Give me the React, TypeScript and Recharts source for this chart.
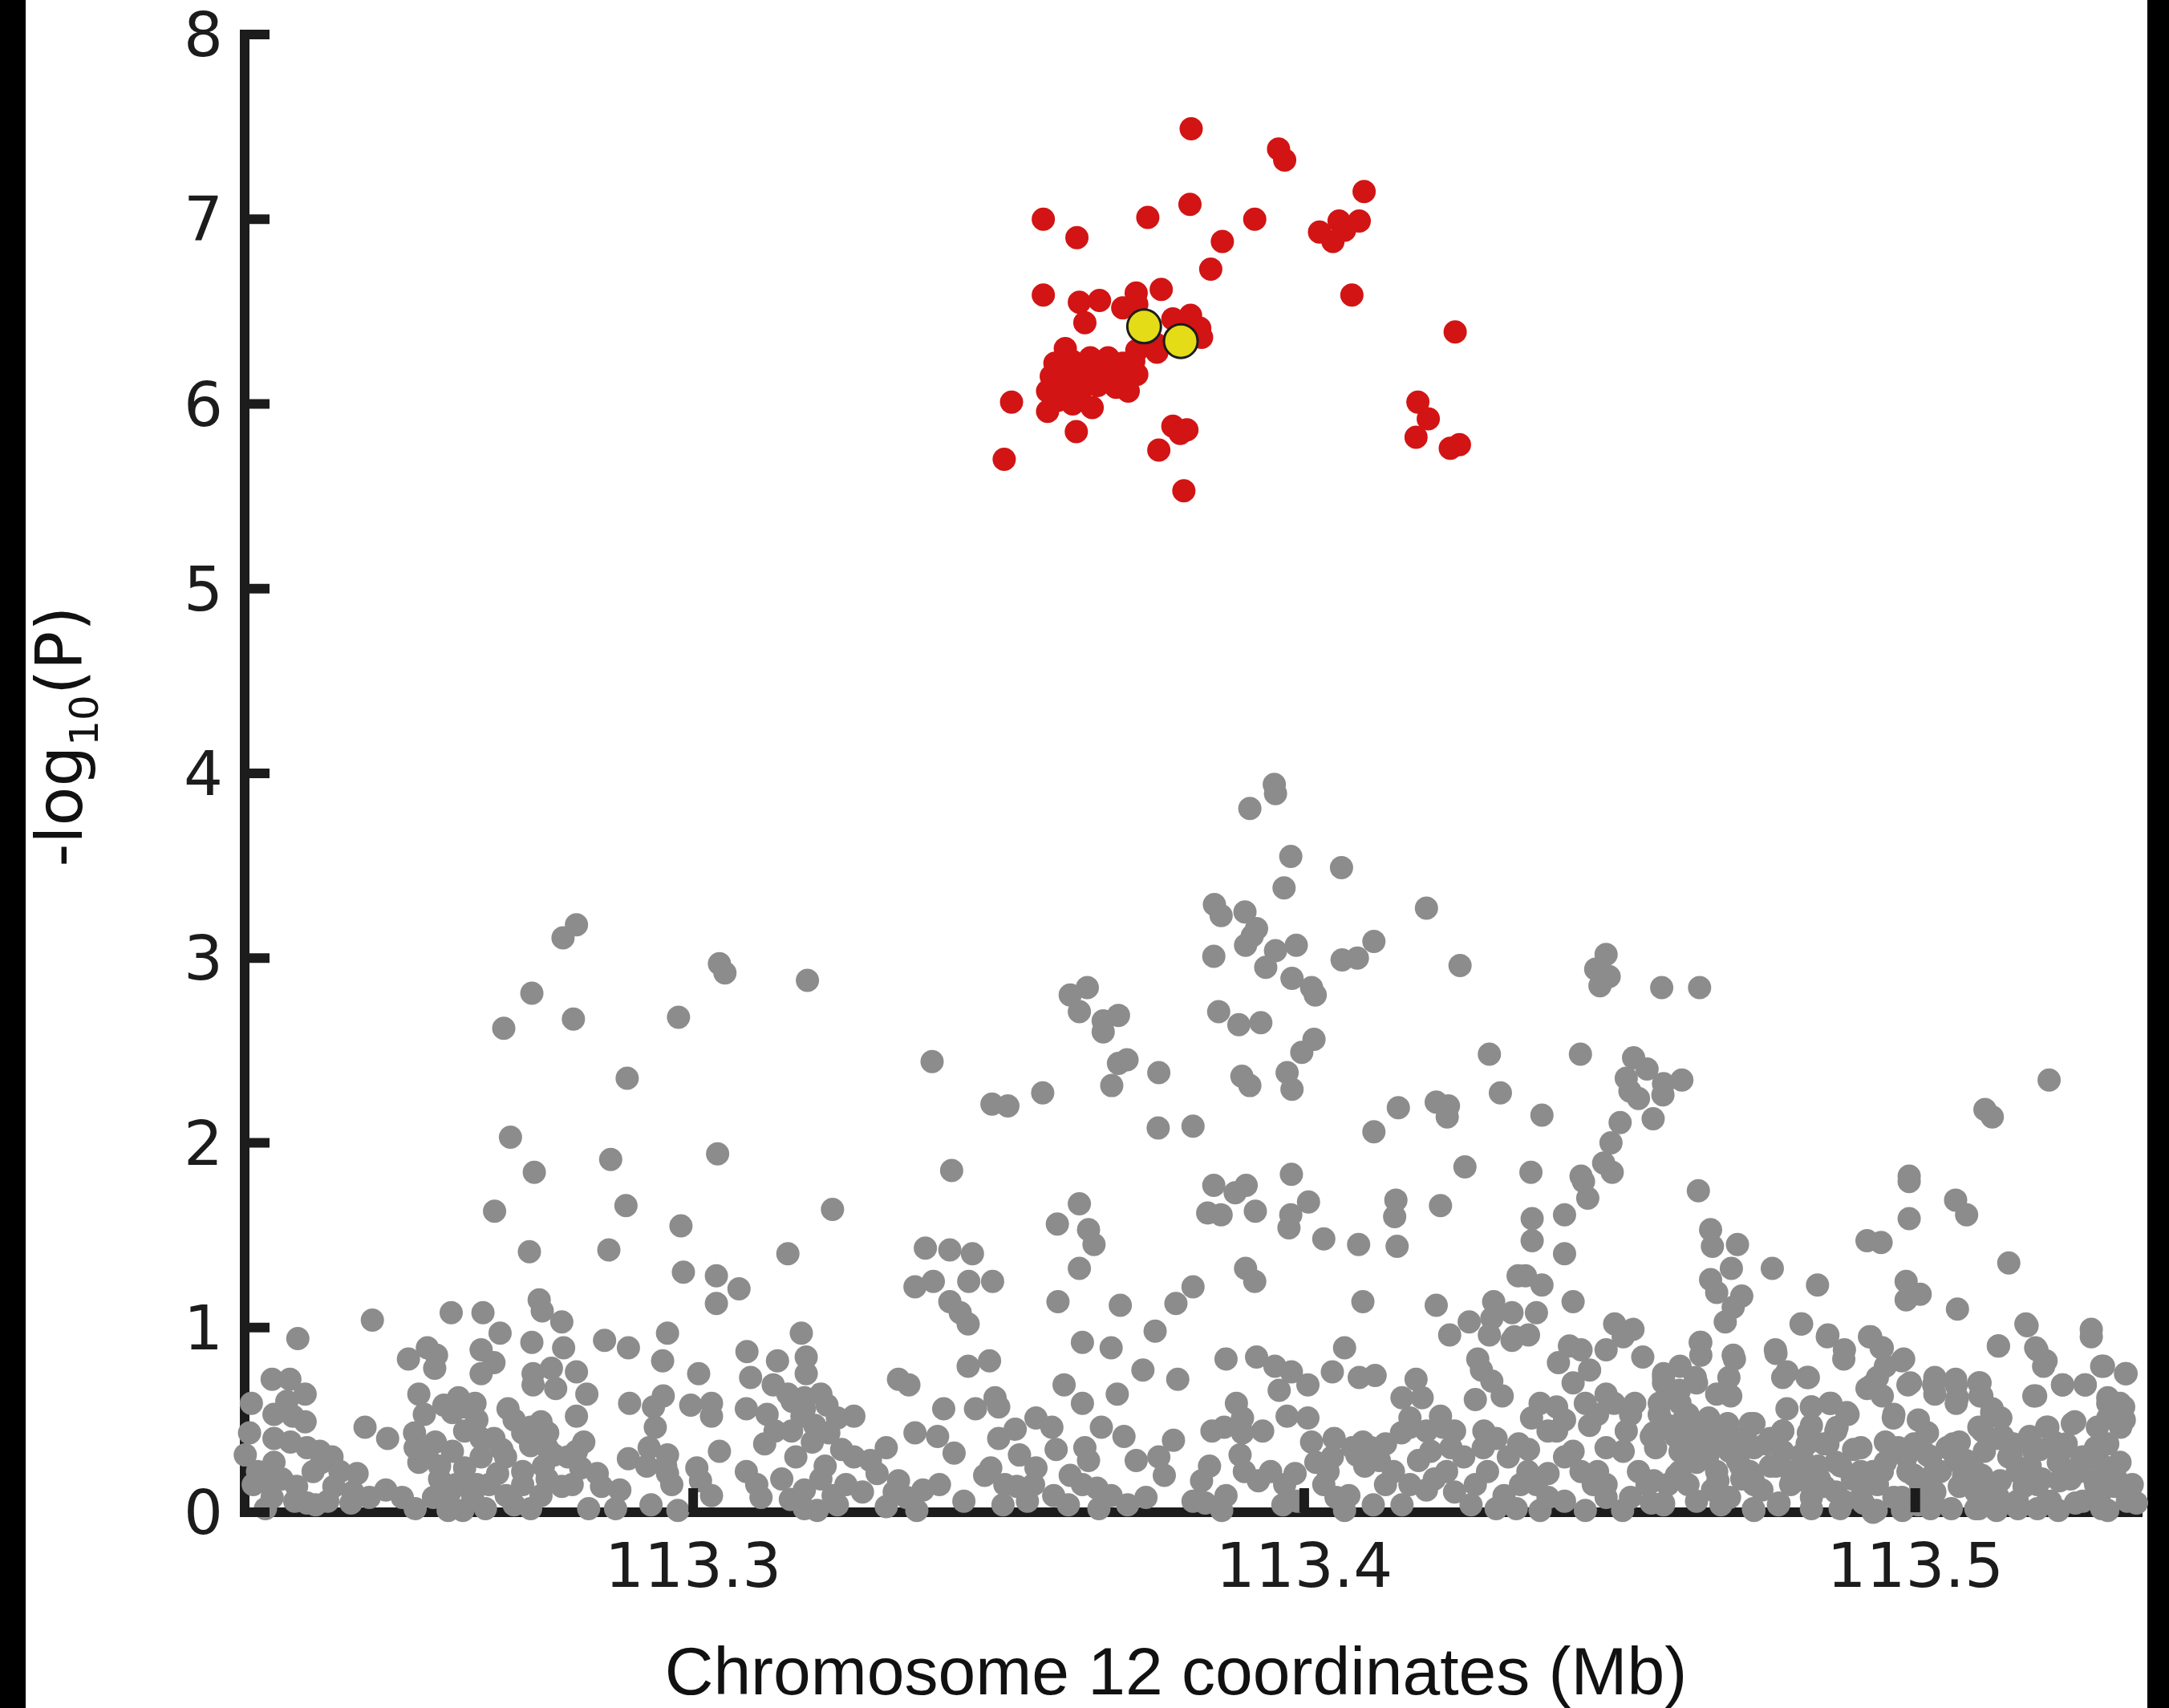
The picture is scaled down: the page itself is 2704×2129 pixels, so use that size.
import { Scatter, ScatterChart, XAxis, YAxis } from "recharts"

const xTicks = [113.3, 113.4, 113.5]
const yTicks = [0, 1, 2, 3, 4, 5, 6, 7, 8]

// two lead SNPs drawn in yellow
const leadSnps: [number, number][] = [
  [113.3738, 6.42], [113.3798, 6.34],
]

// genome-wide significant SNPs (red)
const signalSnps: [number, number][] = [
  [113.3815, 7.49], [113.3958, 7.38], [113.3968, 7.32], [113.4098, 7.15], [113.3573, 7.0], [113.3628, 6.9],
  [113.3744, 7.01], [113.3813, 7.08], [113.3919, 7.0], [113.3866, 6.88], [113.3847, 6.73], [113.4025, 6.93],
  [113.4057, 6.99], [113.409, 6.99], [113.4047, 6.88], [113.4066, 6.94], [113.4078, 6.59], [113.4247, 6.39],
  [113.3573, 6.59], [113.3632, 6.55], [113.3665, 6.56], [113.3641, 6.44], [113.3725, 6.6], [113.3766, 6.62],
  [113.3703, 6.52], [113.3726, 6.54], [113.3785, 6.46], [113.3814, 6.48], [113.3829, 6.41], [113.3832, 6.36],
  [113.3759, 6.32], [113.3759, 6.28], [113.3726, 6.29], [113.3721, 6.23], [113.3609, 6.3], [113.3592, 6.22],
  [113.3621, 6.23], [113.365, 6.25], [113.3679, 6.25], [113.3703, 6.22], [113.3586, 6.15], [113.3615, 6.16],
  [113.3644, 6.16], [113.3674, 6.17], [113.3703, 6.15], [113.3726, 6.16], [113.358, 6.07], [113.3609, 6.09],
  [113.3633, 6.06], [113.3662, 6.1], [113.3692, 6.09], [113.3712, 6.07], [113.3597, 6.02], [113.3621, 6.0],
  [113.3653, 5.98], [113.358, 5.96], [113.3521, 6.01], [113.3627, 5.85], [113.3509, 5.7], [113.3785, 5.88],
  [113.3808, 5.86], [113.3797, 5.84], [113.3762, 5.75], [113.4186, 6.01], [113.4203, 5.92], [113.4183, 5.82],
  [113.4254, 5.78], [113.4239, 5.76], [113.3803, 5.53],
]

// all other SNPs (grey)
const backgroundSnps: [number, number][] = [
  // upper left
  [113.2809, 3.18], [113.2787, 3.11], [113.3043, 2.97], [113.3052, 2.92], [113.3187, 2.88], [113.2736, 2.81],
  [113.269, 2.62], [113.2804, 2.67], [113.2976, 2.68], [113.2892, 2.35], [113.2701, 2.03], [113.2865, 1.91],
  [113.304, 1.94], [113.274, 1.84],
  // upper middle
  [113.3951, 3.94], [113.3953, 3.89], [113.3911, 3.81], [113.3978, 3.55], [113.4061, 3.49], [113.3967, 3.38],
  [113.3853, 3.29], [113.3864, 3.23], [113.3903, 3.25], [113.3922, 3.16], [113.3904, 3.07], [113.3915, 3.12],
  [113.42, 3.27], [113.3852, 3.01], [113.3953, 3.04], [113.3987, 3.07], [113.3937, 2.95], [113.398, 2.89],
  [113.4012, 2.84], [113.4018, 2.8], [113.4062, 2.99], [113.4087, 3.0], [113.4114, 3.09], [113.4255, 2.96],
  [113.3645, 2.84], [113.3617, 2.8], [113.3632, 2.71], [113.3696, 2.69], [113.3671, 2.66], [113.3671, 2.6],
  [113.386, 2.71], [113.3893, 2.64], [113.3929, 2.65], [113.4016, 2.56], [113.3996, 2.49], [113.4303, 2.48],
  [113.3391, 2.44], [113.371, 2.45], [113.3696, 2.43], [113.3762, 2.38], [113.3685, 2.31], [113.3898, 2.36],
  [113.3911, 2.31], [113.3972, 2.38], [113.398, 2.29], [113.3489, 2.21], [113.3515, 2.2], [113.3572, 2.27],
  [113.4154, 2.19], [113.4216, 2.22], [113.4236, 2.2], [113.4234, 2.14], [113.4321, 2.27], [113.3761, 2.08],
  [113.3818, 2.09], [113.4114, 2.06], [113.3423, 1.85], [113.4263, 1.87], [113.3979, 1.83],
  // upper right
  [113.4494, 3.02], [113.4477, 2.94], [113.4499, 2.9], [113.4484, 2.85], [113.4585, 2.84], [113.4647, 2.84],
  [113.4452, 2.48], [113.4539, 2.46], [113.4561, 2.4], [113.4527, 2.35], [113.4533, 2.28], [113.4547, 2.24],
  [113.4588, 2.32], [113.4587, 2.26], [113.4618, 2.34], [113.5219, 2.34], [113.5114, 2.18], [113.5126, 2.14],
  [113.4389, 2.15], [113.4517, 2.11], [113.4571, 2.13], [113.4502, 2.0], [113.449, 1.89], [113.4504, 1.84],
  [113.4371, 1.84], [113.4453, 1.82], [113.499, 1.82],
  // lower left
  [113.2675, 1.63], [113.289, 1.66], [113.298, 1.55], [113.3228, 1.64], [113.2732, 1.41], [113.2862, 1.42],
  [113.3155, 1.4], [113.2984, 1.3], [113.3038, 1.28], [113.3075, 1.21], [113.3038, 1.13], [113.2748, 1.15],
  [113.2753, 1.09], [113.2475, 1.04], [113.2353, 0.94], [113.2604, 1.08], [113.2656, 1.08], [113.2684, 0.97],
  [113.2785, 1.03], [113.2958, 0.97], [113.3177, 0.97], [113.2736, 0.92], [113.2855, 0.93], [113.2894, 0.89],
  [113.2788, 0.89], [113.2653, 0.88], [113.2534, 0.83], [113.2565, 0.89], [113.258, 0.85], [113.2577, 0.78],
  [113.2674, 0.81], [113.295, 0.82], [113.3088, 0.87], [113.3138, 0.82], [113.3185, 0.84], [113.3185, 0.75],
  [113.3131, 0.69], [113.3094, 0.73], [113.3009, 0.75], [113.2738, 0.75], [113.2738, 0.69], [113.2653, 0.75],
  [113.2768, 0.78], [113.2809, 0.76], [113.2775, 0.67], [113.2826, 0.64], [113.2311, 0.72], [113.234, 0.72],
  [113.2277, 0.59], [113.2365, 0.64], [113.2335, 0.6], [113.2314, 0.53], [113.2345, 0.52], [113.2365, 0.49],
  [113.2551, 0.64], [113.256, 0.53], [113.2592, 0.58], [113.2616, 0.62], [113.2626, 0.57], [113.2643, 0.59],
  [113.2606, 0.54], [113.2463, 0.46], [113.25, 0.4], [113.2697, 0.56], [113.2707, 0.5], [113.2734, 0.46],
  [113.2751, 0.49], [113.2721, 0.43], [113.2762, 0.43], [113.2674, 0.4], [113.2687, 0.34], [113.2734, 0.36],
  [113.2809, 0.52], [113.2821, 0.38], [113.2896, 0.59], [113.2935, 0.57], [113.2938, 0.46], [113.2996, 0.58],
  [113.303, 0.59], [113.303, 0.52], [113.2951, 0.63], [113.3087, 0.56], [113.3121, 0.53], [113.3162, 0.6],
  [113.3182, 0.62], [113.3219, 0.58], [113.3178, 0.52], [113.3263, 0.52], [113.3199, 0.47], [113.3134, 0.44],
  [113.3222, 0.43], [113.3117, 0.37], [113.3043, 0.33], [113.2958, 0.31], [113.2894, 0.29], [113.2928, 0.35],
  [113.2955, 0.25], [113.2958, 0.21], [113.3006, 0.24], [113.3012, 0.17], [113.303, 0.09], [113.3087, 0.22],
  [113.3104, 0.15], [113.3111, 0.08], [113.3145, 0.18], [113.3159, 0.07], [113.3182, 0.02], [113.3203, 0.01],
  [113.3216, 0.25], [113.3209, 0.18], [113.3243, 0.34], [113.3263, 0.3], [113.329, 0.28], [113.325, 0.15],
  [113.3277, 0.11], [113.3229, 0.09], [113.3301, 0.21], [113.2931, 0.04], [113.2975, 0.01], [113.288, 0.12],
  [113.2873, 0.02], [113.2843, 0.21], [113.285, 0.14], [113.2829, 0.02], [113.2816, 0.24], [113.2795, 0.3],
  [113.2772, 0.31], [113.2755, 0.25], [113.2785, 0.14], [113.2751, 0.09], [113.2721, 0.15], [113.2694, 0.09],
  [113.266, 0.02], [113.268, 0.21], [113.2653, 0.3], [113.2646, 0.15], [113.2626, 0.24], [113.2623, 0.01],
  [113.2599, 0.01], [113.2602, 0.11], [113.2585, 0.18], [113.2606, 0.33], [113.2578, 0.38], [113.2545, 0.35],
  [113.2551, 0.27], [113.2575, 0.08], [113.2545, 0.02], [113.2524, 0.08], [113.2497, 0.12], [113.245, 0.21],
  [113.2443, 0.11], [113.244, 0.05], [113.2412, 0.14], [113.2409, 0.3], [113.2389, 0.33], [113.2378, 0.22],
  [113.2368, 0.05], [113.2382, 0.04], [113.2351, 0.14], [113.2348, 0.06], [113.2314, 0.27], [113.2314, 0.4],
  [113.2341, 0.38], [113.2368, 0.35], [113.2274, 0.43], [113.2267, 0.31], [113.228, 0.15], [113.2307, 0.15],
  [113.23, 0.02], [113.2311, 0.08], [113.2392, 0.27],
  [113.2287, 0.22], [113.2327, 0.18], [113.2402, 0.06], [113.2422, 0.22], [113.247, 0.08], [113.2565, 0.3],
  [113.2585, 0.25], [113.2612, 0.15], [113.2599, 0.06], [113.2639, 0.09], [113.2666, 0.15], [113.2693, 0.3],
  [113.2721, 0.22], [113.2734, 0.02], [113.2707, 0.04], [113.2761, 0.18], [113.2802, 0.15], [113.2809, 0.33],
  [113.2761, 0.35], [113.2653, 0.4], [113.2626, 0.44], [113.2646, 0.5], [113.2544, 0.43], [113.2924, 0.25],
  [113.2965, 0.15], [113.3168, 0.3], [113.3182, 0.12], [113.3236, 0.04], [113.3195, 0.38], [113.3161, 0.44],
  [113.3182, 0.56], [113.3209, 0.64], [113.3236, 0.51], [113.3155, 0.64],
  // lower middle
  [113.3632, 1.67], [113.3596, 1.56], [113.3647, 1.53], [113.3656, 1.45], [113.3632, 1.32], [113.3852, 1.77],
  [113.3887, 1.73], [113.3905, 1.77], [113.3842, 1.62], [113.3864, 1.61], [113.392, 1.63], [113.4007, 1.68],
  [113.3978, 1.61], [113.3975, 1.54], [113.4032, 1.48], [113.4089, 1.45], [113.415, 1.69], [113.4148, 1.6],
  [113.4152, 1.44], [113.4223, 1.66], [113.338, 1.43], [113.342, 1.42], [113.3457, 1.4], [113.3363, 1.22],
  [113.3393, 1.25], [113.3451, 1.25], [113.349, 1.25], [113.342, 1.14], [113.3437, 1.08], [113.345, 1.02],
  [113.3597, 1.14], [113.3699, 1.12], [113.379, 1.13], [113.3818, 1.22], [113.3756, 0.98], [113.3637, 0.92],
  [113.3684, 0.89], [113.3904, 1.32], [113.3919, 1.25], [113.4096, 1.14], [113.4216, 1.12], [113.431, 1.14],
  [113.427, 1.03], [113.4238, 0.96], [113.4307, 1.05], [113.4303, 0.96], [113.434, 1.08], [113.4344, 0.95],
  [113.435, 1.28], [113.345, 0.79], [113.3485, 0.82], [113.3336, 0.72], [113.3353, 0.69], [113.341, 0.56],
  [113.3462, 0.56], [113.3494, 0.62], [113.35, 0.57], [113.3607, 0.69], [113.3637, 0.59], [113.3694, 0.64],
  [113.3736, 0.77], [113.3793, 0.72], [113.3872, 0.83], [113.3922, 0.84], [113.3952, 0.79], [113.3979, 0.76],
  [113.4006, 0.69], [113.3959, 0.66], [113.4066, 0.89], [113.4046, 0.76], [113.409, 0.73], [113.4116, 0.74],
  [113.4183, 0.72], [113.416, 0.62], [113.4193, 0.62], [113.4284, 0.83], [113.429, 0.77], [113.4307, 0.71],
  [113.4324, 0.63], [113.428, 0.61], [113.434, 0.93], [113.3363, 0.43], [113.34, 0.41], [113.3316, 0.35],
  [113.3427, 0.32], [113.35, 0.4], [113.3527, 0.45], [113.3561, 0.51], [113.3587, 0.46], [113.3534, 0.31],
  [113.3594, 0.34], [113.3668, 0.46], [113.3705, 0.41], [113.3641, 0.35], [113.3725, 0.28], [113.3762, 0.3],
  [113.3786, 0.39], [113.3849, 0.44], [113.3869, 0.46], [113.3889, 0.59], [113.3899, 0.51], [113.3899, 0.43],
  [113.3932, 0.44], [113.3972, 0.52], [113.4006, 0.51], [113.4012, 0.38], [113.4049, 0.4], [113.3895, 0.31],
  [113.3845, 0.25], [113.3902, 0.22], [113.3925, 0.17], [113.4173, 0.51], [113.4173, 0.46], [113.4223, 0.52],
  [113.4227, 0.46], [113.4096, 0.38], [113.4109, 0.35], [113.4086, 0.31], [113.4123, 0.28], [113.4146, 0.22],
  [113.4187, 0.28], [113.4207, 0.33], [113.424, 0.35], [113.4261, 0.3], [113.4233, 0.22], [113.4294, 0.44],
  [113.4314, 0.4], [113.4334, 0.3], [113.4351, 0.37], [113.43, 0.22], [113.428, 0.15], [113.4327, 0.09],
  [113.4314, 0.02], [113.42, 0.12], [113.416, 0.04], [113.4113, 0.04], [113.4066, 0.01], [113.4073, 0.09],
  [113.4032, 0.15], [113.4039, 0.22], [113.3985, 0.21], [113.3968, 0.15], [113.3989, 0.06], [113.3865, 0.01],
  [113.3872, 0.09], [113.3832, 0.17], [113.3838, 0.05], [113.3741, 0.08], [113.3711, 0.04], [113.3664, 0.02],
  [113.3661, 0.13], [113.3637, 0.15], [113.3647, 0.28], [113.3617, 0.2], [113.3614, 0.04], [113.3561, 0.24],
  [113.3557, 0.15], [113.353, 0.14], [113.3547, 0.06], [113.3507, 0.04], [113.3487, 0.24], [113.3477, 0.2],
  [113.3403, 0.15], [113.3376, 0.12], [113.3366, 0.01], [113.3336, 0.17], [113.3316, 0.03], [113.3349, 0.08],
  [113.4079, 0.35], [113.4099, 0.25], [113.4133, 0.15], [113.4173, 0.15], [113.4213, 0.18], [113.4246, 0.11],
  [113.4273, 0.04], [113.4354, 0.15], [113.4347, 0.02], [113.4293, 0.35], [113.4246, 0.44], [113.42, 0.44],
  [113.4133, 0.37], [113.4159, 0.43], [113.4046, 0.3], [113.4019, 0.27], [113.4052, 0.08], [113.3965, 0.04],
  [113.3945, 0.22], [113.3818, 0.06], [113.3771, 0.2], [113.3684, 0.09], [113.359, 0.09], [113.351, 0.15],
  [113.3443, 0.06], [113.3329, 0.11],
  // lower right
  [113.4457, 1.79], [113.4464, 1.7], [113.4426, 1.61], [113.4373, 1.59], [113.4373, 1.47], [113.4426, 1.4],
  [113.4645, 1.74], [113.4665, 1.53], [113.4668, 1.44], [113.4709, 1.45], [113.4699, 1.32], [113.4665, 1.26],
  [113.4675, 1.19], [113.4716, 1.17], [113.4702, 1.11], [113.4689, 1.03], [113.4766, 1.32], [113.484, 1.23],
  [113.499, 1.79], [113.499, 1.59], [113.5066, 1.69], [113.5084, 1.61], [113.4921, 1.47], [113.4944, 1.46],
  [113.5153, 1.35], [113.4985, 1.25], [113.5008, 1.18], [113.4985, 1.15], [113.5069, 1.1], [113.4362, 1.28],
  [113.4389, 1.23], [113.444, 1.14], [113.438, 1.08], [113.4367, 0.96], [113.4508, 1.02], [113.4538, 0.99],
  [113.4522, 0.95], [113.4434, 0.9], [113.4494, 0.88], [113.4453, 0.88], [113.4554, 0.84], [113.4416, 0.81],
  [113.4467, 0.77], [113.444, 0.7], [113.4494, 0.64], [113.4649, 0.92], [113.4649, 0.85], [113.4702, 0.85],
  [113.4771, 0.88], [113.4813, 1.02], [113.4857, 0.96], [113.4884, 0.88], [113.479, 0.76], [113.4823, 0.73],
  [113.4927, 0.95], [113.4944, 0.89], [113.4981, 0.83], [113.4951, 0.79], [113.4938, 0.73], [113.4921, 0.67],
  [113.4992, 0.7], [113.5032, 0.73], [113.5032, 0.64], [113.5066, 0.72], [113.5069, 0.62], [113.5106, 0.7],
  [113.5106, 0.63], [113.5136, 0.9], [113.5181, 1.02], [113.5197, 0.89], [113.5214, 0.82], [113.5197, 0.63],
  [113.5241, 0.69], [113.5278, 0.69], [113.5288, 0.99], [113.5308, 0.79], [113.5345, 0.75], [113.5315, 0.62],
  [113.5335, 0.59], [113.5315, 0.51], [113.5261, 0.49], [113.5298, 0.46], [113.5295, 0.35], [113.5217, 0.46],
  [113.5227, 0.38], [113.5143, 0.41], [113.511, 0.44], [113.5126, 0.56], [113.5072, 0.38], [113.5019, 0.43],
  [113.4965, 0.53], [113.4972, 0.35], [113.4931, 0.22], [113.4985, 0.3], [113.5025, 0.3], [113.5066, 0.28],
  [113.5113, 0.33], [113.5153, 0.3], [113.5194, 0.33], [113.5234, 0.27], [113.5268, 0.22], [113.5308, 0.25],
  [113.5329, 0.18], [113.5295, 0.15], [113.5349, 0.08], [113.5362, 0.05], [113.5315, 0.01], [113.5274, 0.06],
  [113.5234, 0.01], [113.52, 0.15], [113.5167, 0.06], [113.5133, 0.01], [113.5139, 0.17], [113.5099, 0.11],
  [113.5059, 0.02], [113.5079, 0.2], [113.5032, 0.11], [113.5005, 0.04], [113.4998, 0.2], [113.4965, 0.08],
  [113.4979, 0.01], [113.4931, 0.0], [113.4911, 0.08], [113.4877, 0.02], [113.4897, 0.18], [113.487, 0.27],
  [113.4911, 0.35], [113.487, 0.44], [113.489, 0.53], [113.486, 0.59], [113.483, 0.57], [113.483, 0.47],
  [113.4823, 0.37], [113.4843, 0.18], [113.483, 0.08], [113.4783, 0.44], [113.4783, 0.33], [113.4763, 0.25],
  [113.4796, 0.15], [113.4776, 0.04], [113.4736, 0.01], [113.4749, 0.12], [113.4736, 0.48], [113.4736, 0.35],
  [113.4709, 0.28], [113.4716, 0.18], [113.4675, 0.22], [113.4668, 0.12], [113.4689, 0.43], [113.4662, 0.51],
  [113.4649, 0.37], [113.4642, 0.27], [113.4675, 0.64], [113.4695, 0.73], [113.4642, 0.7], [113.4615, 0.79],
  [113.4588, 0.75], [113.4595, 0.62], [113.4581, 0.59], [113.4621, 0.5], [113.4608, 0.41], [113.4615, 0.22],
  [113.4595, 0.15], [113.4541, 0.59], [113.4534, 0.53], [113.4568, 0.41], [113.4575, 0.35], [113.4522, 0.33],
  [113.4494, 0.35], [113.444, 0.33], [113.448, 0.22], [113.4494, 0.15], [113.4399, 0.21], [113.438, 0.15],
  [113.4386, 0.01], [113.4426, 0.06], [113.446, 0.01], [113.4521, 0.01], [113.4561, 0.15], [113.4568, 0.05],
  [113.4588, 0.04], [113.4367, 0.34], [113.4386, 0.59], [113.4413, 0.57], [113.446, 0.59], [113.4426, 0.5],
  [113.4467, 0.47], [113.4413, 0.44],
  [113.4588, 0.7], [113.4601, 0.64], [113.4615, 0.59], [113.4628, 0.53], [113.4642, 0.47], [113.4655, 0.44],
  [113.4675, 0.38], [113.4696, 0.33], [113.4709, 0.35], [113.4722, 0.41], [113.4729, 0.22], [113.4736, 0.15],
  [113.4696, 0.08], [113.4682, 0.04], [113.4642, 0.06], [113.4628, 0.15], [113.4615, 0.33], [113.4595, 0.47],
  [113.4581, 0.53], [113.4601, 0.44], [113.4951, 0.38], [113.4998, 0.37], [113.5032, 0.22], [113.5052, 0.35],
  [113.5093, 0.25], [113.5119, 0.09], [113.5167, 0.22], [113.5187, 0.41], [113.5207, 0.18], [113.5221, 0.06],
  [113.5254, 0.18], [113.5274, 0.3], [113.5315, 0.37], [113.5335, 0.27], [113.5355, 0.15], [113.5301, 0.08],
  [113.52, 0.02], [113.5099, 0.02], [113.5025, 0.02], [113.4938, 0.15], [113.4951, 0.27], [113.5005, 0.5],
  [113.514, 0.51], [113.516, 0.37], [113.5247, 0.37], [113.5342, 0.5], [113.4372, 0.51], [113.4399, 0.44],
  [113.4426, 0.3], [113.4453, 0.22], [113.4473, 0.15], [113.4494, 0.08], [113.4534, 0.08], [113.4547, 0.22],
  [113.4527, 0.44], [113.4399, 0.08], [113.4366, 0.22], [113.4507, 0.59], [113.448, 0.53], [113.4763, 0.4],
  [113.4796, 0.22], [113.4817, 0.27], [113.4857, 0.37], [113.487, 0.11], [113.4911, 0.22], [113.479, 0.56],
  [113.483, 0.02],
  [113.4588, 0.73], [113.4614, 0.66], [113.464, 0.73], [113.4648, 0.92], [113.4582, 0.59], [113.4625, 0.51],
  [113.4609, 0.44], [113.4635, 0.37], [113.4661, 0.31], [113.4683, 0.38], [113.4693, 0.48], [113.4698, 0.63],
  [113.4704, 0.83], [113.4677, 0.17], [113.4714, 0.25], [113.4735, 0.17], [113.4756, 0.37], [113.4783, 0.44],
  [113.4772, 0.25], [113.4798, 0.17], [113.4735, 0.02], [113.4777, 0.05], [113.4572, 0.17], [113.4609, 0.2],
  [113.4588, 0.05], [113.4572, 0.43], [113.473, 0.48], [113.483, 0.57], [113.4862, 0.59], [113.4888, 0.54],
  [113.4825, 0.43], [113.4851, 0.37], [113.4872, 0.46], [113.4899, 0.34], [113.4878, 0.25], [113.4841, 0.25],
  [113.4851, 0.14], [113.4883, 0.06], [113.4915, 0.05], [113.4925, 0.17], [113.4936, 0.01], [113.482, 0.17],
  [113.4814, 0.31], [113.4783, 0.73], [113.4825, 0.73], [113.4772, 0.86], [113.4856, 0.95], [113.4883, 0.83],
  [113.4814, 1.02], [113.4925, 0.95], [113.4946, 0.89], [113.4978, 0.82], [113.493, 0.69], [113.4946, 0.63],
  [113.4988, 0.69], [113.503, 0.69], [113.5067, 0.69], [113.5104, 0.7], [113.5067, 0.59], [113.5109, 0.63],
  [113.5125, 0.54], [113.4964, 0.51], [113.502, 0.43], [113.4978, 0.34], [113.4946, 0.22], [113.4988, 0.22],
  [113.502, 0.31], [113.5062, 0.37], [113.5104, 0.46], [113.5136, 0.4], [113.5157, 0.31], [113.5083, 0.28],
  [113.5041, 0.22], [113.5009, 0.14], [113.4978, 0.08], [113.503, 0.05], [113.5072, 0.14], [113.5109, 0.2],
  [113.5136, 0.08], [113.5178, 0.14], [113.5188, 0.25], [113.5215, 0.46], [113.5204, 0.34], [113.5241, 0.34],
  [113.5268, 0.25], [113.5236, 0.17], [113.5215, 0.05], [113.5262, 0.05], [113.5294, 0.17], [113.5305, 0.25],
  [113.5326, 0.14], [113.5347, 0.06], [113.5305, 0.02], [113.5168, 0.02], [113.5104, 0.02], [113.5299, 0.35],
  [113.5315, 0.59], [113.5336, 0.46], [113.5341, 0.57], [113.5257, 0.48], [113.5241, 0.69], [113.5278, 0.69],
  [113.5194, 0.63], [113.5305, 0.79], [113.5344, 0.75], [113.5136, 0.9], [113.5183, 1.01], [113.5199, 0.88],
  [113.521, 0.79], [113.5288, 0.95],
]

const AXIS = "#1c1c1c"
const GREY = "#8c8c8c"
const RED = "#d21414"
const YELLOW = "#e3dc17"

const toPoints = (rows: [number, number][]) => rows.map(([pos, logp]) => ({ pos, logp }))

const dot = (r: number, fill: string, stroke?: string) => (props: any) => (
  <circle cx={props.cx} cy={props.cy} r={r} fill={fill} stroke={stroke ?? "none"} strokeWidth={stroke ? 3 : 0} />
)

function YTick({ x, y, payload }: any) {
  return (
    <g>
      <line x1={x} y1={y} x2={x + 31} y2={y} stroke={AXIS} strokeWidth={12} />
      <text x={x - 27} y={y + 27} textAnchor="end" fontFamily="DejaVu Sans" fontSize={77} fill={AXIS}>
        {payload.value}
      </text>
    </g>
  )
}

function XTick({ x, y, payload }: any) {
  return (
    <g>
      <line x1={x} y1={y} x2={x} y2={y - 30} stroke={AXIS} strokeWidth={12} />
      <text x={x} y={y + 93} textAnchor="middle" fontFamily="DejaVu Sans" fontSize={77} fill={AXIS}>
        {payload.value}
      </text>
    </g>
  )
}

function XTitle() {
  return (
    <text x={1466} y={2112} textAnchor="middle" fontFamily="Liberation Sans" fontSize={84} fill="#111">
      Chromosome 12 coordinates (Mb)
    </text>
  )
}

function YTitle() {
  return (
    <text
      x={102}
      y={918}
      transform="rotate(-90, 102, 918)"
      textAnchor="middle"
      fontFamily="DejaVu Sans"
      fontSize={80}
      fill="#111"
    >
      -log
      <tspan fontSize={50} dy={20}>10</tspan>
      <tspan dy={-20}>(P)</tspan>
    </text>
  )
}

export default function App() {
  return (
    <div style={{ position: "absolute", left: 0, top: 0, width: 2704, height: 2129, background: "#fff", overflow: "hidden" }}>
      <div style={{ position: "absolute", left: 0, top: 0, width: 32, height: 2129, background: "#000" }} />
      <div style={{ position: "absolute", left: 2677, top: 0, width: 27, height: 2129, background: "#000" }} />
      <div style={{ position: "absolute", left: 0, top: 0 }}>
        <ScatterChart width={2704} height={2129} margin={{ top: 43, right: 39, bottom: 0, left: 0 }}>
          <XAxis
            type="number"
            dataKey="pos"
            domain={[113.2266, 113.5364]}
            ticks={xTicks}
            height={244}
            tickSize={0}
            tickMargin={0}
            tick={XTick}
            axisLine={{ stroke: AXIS, strokeWidth: 12, strokeLinecap: "square" }}
            label={<XTitle />}
          />
          <YAxis
            type="number"
            dataKey="logp"
            domain={[0, 8]}
            ticks={yTicks}
            width={305}
            tickSize={0}
            tickMargin={0}
            tick={YTick}
            axisLine={{ stroke: AXIS, strokeWidth: 12, strokeLinecap: "square" }}
            label={<YTitle />}
          />
          <Scatter data={toPoints(backgroundSnps)} shape={dot(14.5, GREY)} isAnimationActive={false} />
          <Scatter data={toPoints(signalSnps)} shape={dot(14.5, RED)} isAnimationActive={false} />
          <Scatter data={toPoints(leadSnps)} shape={dot(21, YELLOW, AXIS)} isAnimationActive={false} />
        </ScatterChart>
      </div>
    </div>
  )
}
